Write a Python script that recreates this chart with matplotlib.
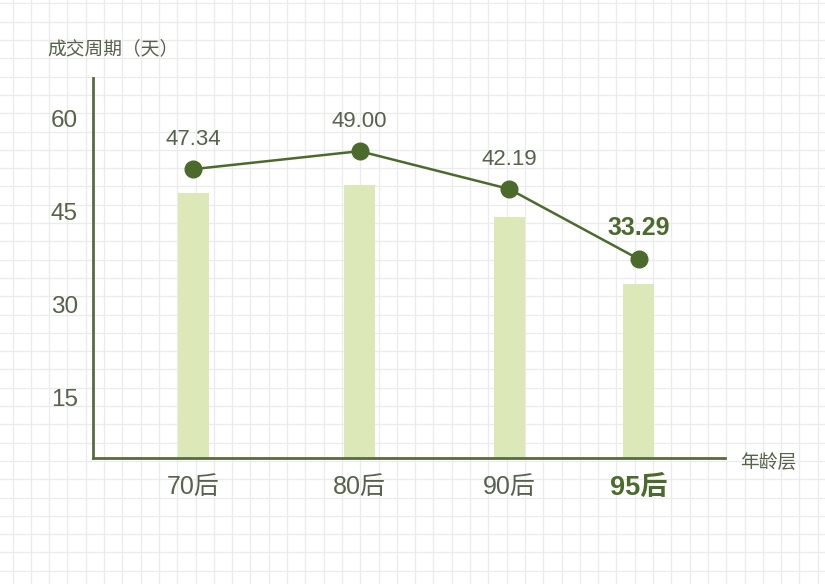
import matplotlib.pyplot as plt
import numpy as np

# data
groups = ["70后", "80后", "90后", "95后"]
cycle_days = [47.34, 49.00, 42.19, 33.29]      # printed labels
bar_height = [48.0, 49.4, 44.2, 33.4]          # bar tops as drawn
line_height = [51.9, 54.8, 48.7, 37.4]         # dots as drawn (sit above bars)
y_ticks = [15, 30, 45, 60]

# layout: the slots are not evenly spaced in the original
slot = [0, 1, 1.9, 2.68]

W, H = 825, 584
dark = "#4b6b2c"
text_col = "#56624a"
bar_col = "#dce8b8"
spine_col = "#586b40"

fig = plt.figure(figsize=(W / 100, H / 100), dpi=100)
fig.patch.set_facecolor("white")

# graph paper background
bg = fig.add_axes([0, 0, 1, 1], zorder=-5)
bg.set_xlim(0, W)
bg.set_ylim(H, 0)
bg.axis("off")
step = 18.3
for gx in np.arange(12.5, W, step):
    bg.axvline(gx, color="#ebebeb", lw=0.9)
for gy in np.arange(3.4, H, step):
    bg.axhline(gy, color="#ebebeb", lw=0.9)

# main axes, placed in pixel terms
left, right, top, bottom = 93, 725, 78, 458
ax = fig.add_axes([left / W, (H - bottom) / H, (right - left) / W, (bottom - top) / H])
ax.patch.set_alpha(0)
ax.set_xlim(-0.605, 3.20)
ax.set_ylim(5.3, 66.6)

ax.bar(slot, bar_height, width=0.187, bottom=0, color=bar_col, zorder=2)
ax.plot(slot, line_height, color=dark, lw=1.8, marker="o", markersize=12,
        markerfacecolor=dark, markeredgecolor=dark, zorder=3)

cn = ["Liberation Sans", "Noto Sans CJK SC"]
for i, (x, y, v) in enumerate(zip(slot, line_height, cycle_days)):
    last = i == len(groups) - 1
    ax.annotate(f"{v:.2f}", (x, y), xytext=(0, 14), textcoords="offset points",
                ha="center", va="bottom", fontsize=18 if last else 16,
                fontweight="bold" if last else "normal",
                color=dark if last else text_col, family=cn, zorder=4)

for s in ["top", "right"]:
    ax.spines[s].set_visible(False)
for s in ["left", "bottom"]:
    ax.spines[s].set_color(spine_col)
    ax.spines[s].set_linewidth(2)

ax.set_yticks(y_ticks)
ax.set_yticklabels([str(t) for t in y_ticks], family=cn, fontsize=17.5, color=text_col)
ax.tick_params(axis="y", length=0, pad=11)

ax.set_xticks(slot)
ax.set_xticklabels(groups, family=cn, fontsize=18, color=text_col)
ax.tick_params(axis="x", length=0, pad=12)
last_lbl = ax.get_xticklabels()[-1]
last_lbl.set_fontweight("bold")
last_lbl.set_color(dark)
last_lbl.set_fontsize(19.5)

fig.text(47 / W, 1 - 49 / H, "成交周期（天）", family=["Noto Sans CJK SC", "DejaVu Sans"],
         fontsize=13.5, color=text_col, ha="left", va="center")
fig.text(740 / W, 1 - 462 / H, "年龄层", family=["Noto Sans CJK SC", "DejaVu Sans"],
         fontsize=13.5, color=text_col, ha="left", va="center")

fig.savefig("out.png", dpi=100, facecolor="white")
